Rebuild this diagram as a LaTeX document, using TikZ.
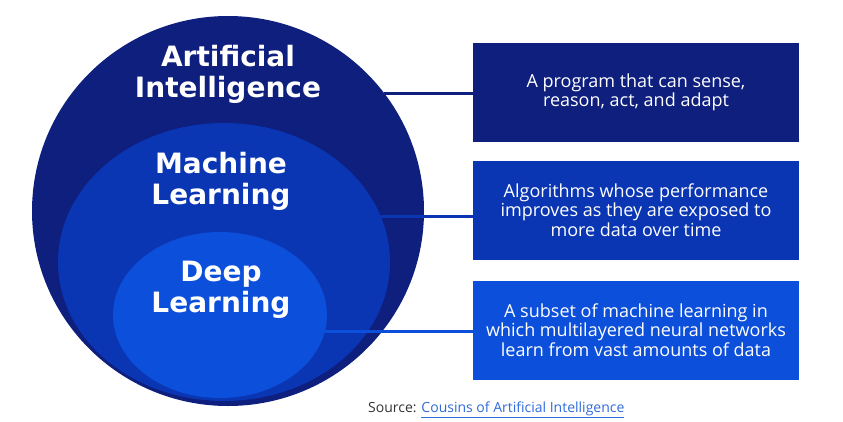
\documentclass[tikz,border=0pt]{standalone}
\usepackage{fontspec}
\setmainfont{Open Sans}
\newfontfamily\titlefont{DejaVu Sans}
\usetikzlibrary{shapes.geometric,calc}
\definecolor{aicol}{HTML}{0E1F7E}
\definecolor{mlcol}{HTML}{0A35B3}
\definecolor{dlcol}{HTML}{0B4FDA}
\definecolor{linkcol}{HTML}{2F6BDB}
\definecolor{srccol}{HTML}{333333}
\tikzset{
  blob/.style={ellipse, inner sep=0pt, draw=none},
  bigtext/.style={text=white, font=\titlefont\fontsize{28}{31}\selectfont\bfseries, align=center, inner sep=0pt},
  boxnode/.style={minimum width=326pt, minimum height=99pt, inner sep=0pt, text=white, align=center, font=\fontsize{18}{19.5}\selectfont},
  link/.style={line width=3pt}
}
\begin{document}
\begin{tikzpicture}[x=1pt,y=-1pt]
\useasboundingbox (0,0) rectangle (843,421);
% circles
\node[blob, fill=aicol, minimum width=392pt, minimum height=390pt] (ai) at (228,211) {};
\node[blob, fill=mlcol, minimum width=332pt, minimum height=278pt] (ml) at (224,262) {};
\node[blob, fill=dlcol, minimum width=214pt, minimum height=166pt] (dl) at (220,315) {};
% titles
\node[bigtext] (tai) at (228,74) {Artificial\\Intelligence};
\node[bigtext] (tml) at (221,181) {Machine\\Learning};
\node[bigtext] (tdl) at (221,290) {Deep\\Learning};
% boxes
\node[boxnode, fill=aicol] (ba) at (636,92.5) {A program that can sense,\\reason, act, and adapt};
\node[boxnode, fill=mlcol] (bm) at (636,210) {Algorithms whose performance\\improves as they are exposed to\\more data over time};
\node[boxnode, fill=dlcol] (bd) at (636,330) {A subset of machine learning in\\which multilayered neural networks\\learn from vast amounts of data};
% connectors
\coordinate (pa) at (ai.37.7);
\coordinate (pm) at (ml.16.8);
\coordinate (pd) at (dl.-9.2);
\draw[link, aicol] (pa) -- (pa -| ba.west);
\draw[link, mlcol] (pm) -- (pm -| bm.west);
\draw[link, dlcol] (pd) -- (pd -| bd.west);
% source
\node[font=\fontsize{14}{16}\selectfont, inner sep=0pt, anchor=west] (src) at (368,410) {\textcolor{srccol}{Source:} \textcolor{linkcol}{\underline{Cousins of Artificial Intelligence}}};
\end{tikzpicture}
\end{document}
